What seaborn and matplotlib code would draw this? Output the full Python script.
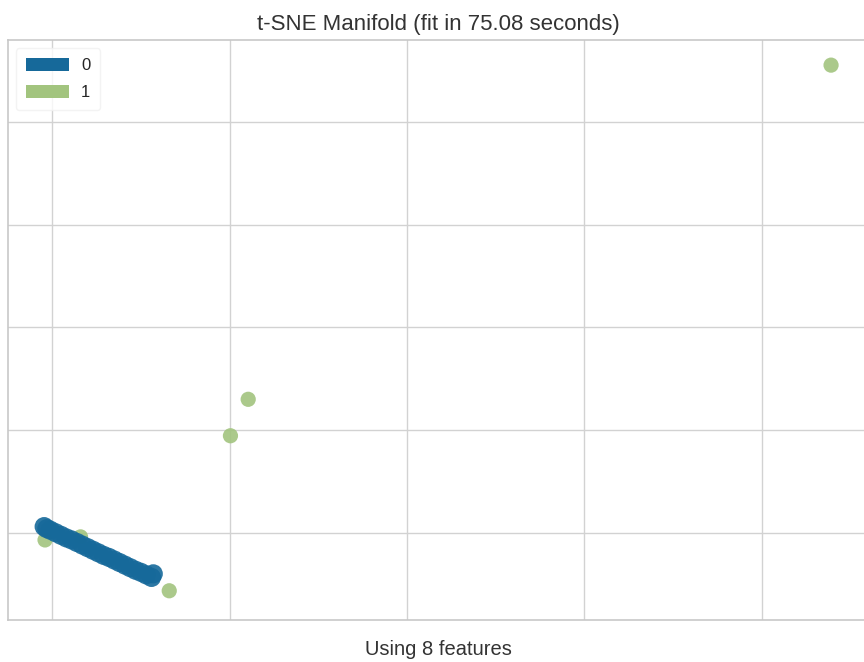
"""Recreate the t-SNE manifold scatter (yellowbrick style) with seaborn."""

import matplotlib

matplotlib.use("Agg")

import matplotlib.pyplot as plt
import pandas as pd
import seaborn as sns
from matplotlib.patches import Patch

# class 1 (green) points
green_x = [-0.8, 3.2, 13.2, 20.1, 22.1, 87.8]
green_y = [-1.4, -0.8, -11.3, 18.9, 26.0, 91.1]

# class 0 (blue) points forming the thick diagonal band
blue_x = [-0.9, -0.6, -0.2, 0.4, 1.0, 1.6, 2.2, 2.8, 3.4, 4.0, 4.6, 5.2,
          5.8, 6.4, 7.0, 7.6, 8.2, 8.8, 9.4, 10.0, 10.6, 11.2, 11.4]
blue_y = [1.2, 0.8, 0.5, 0.0, -0.5, -1.0, -1.4, -1.9, -2.4, -2.9, -3.4, -3.9,
          -4.4, -4.8, -5.3, -5.8, -6.3, -6.8, -7.3, -7.7, -8.2, -8.7, -8.0]

classes = ["0", "1"]
colors = ["#16699a", "#a2c47e"]

title = "t-SNE Manifold (fit in 75.08 seconds)"
xlabel = "Using 8 features"

df = pd.concat(
    [
        pd.DataFrame({"x": green_x, "y": green_y, "label": "1"}),
        pd.DataFrame({"x": blue_x, "y": blue_y, "label": "0"}),
    ],
    ignore_index=True,
)

sns.set_theme(style="whitegrid")
plt.rcParams["font.family"] = ["Liberation Sans", "DejaVu Sans"]

fig = plt.figure(figsize=(8.64, 6.62), dpi=100)
ax = fig.add_axes([0.009, 0.0634, 0.996, 0.8762])

sizes = {"0": 190, "1": 120}
sns.scatterplot(
    data=df, x="x", y="y", hue="label", hue_order=classes,
    size="label", sizes=sizes,
    palette=dict(zip(classes, colors)), alpha=0.9,
    edgecolor="none", legend=False, ax=ax,
)

ax.set_xlim(-5, 92)
ax.set_ylim(-17, 96)
ax.set_xticks([0, 20, 40, 60, 80])
ax.set_yticks([0, 20, 40, 60, 80])
ax.set_xticklabels([])
ax.set_yticklabels([])
ax.tick_params(length=0)
ax.grid(True, color="#d2d2d2", linewidth=1.0)
for spine in ax.spines.values():
    spine.set_color("#c8c8c8")
    spine.set_linewidth(1.2)

ax.set_title(title, fontsize=16, color="#333333", pad=7)
ax.set_xlabel(xlabel, fontsize=14.5, color="#333333", labelpad=11)
ax.set_ylabel("")

handles = [Patch(facecolor=c, edgecolor="none", label=l) for l, c in zip(classes, colors)]
leg = ax.legend(handles=handles, loc="upper left", frameon=True, fontsize=12,
                handlelength=2.6, handleheight=0.8, handletextpad=0.7,
                borderpad=0.6, labelspacing=0.7)
leg.get_frame().set_edgecolor("#f0f0f0")
leg.get_frame().set_facecolor("white")

fig.savefig("out.png", dpi=100)
